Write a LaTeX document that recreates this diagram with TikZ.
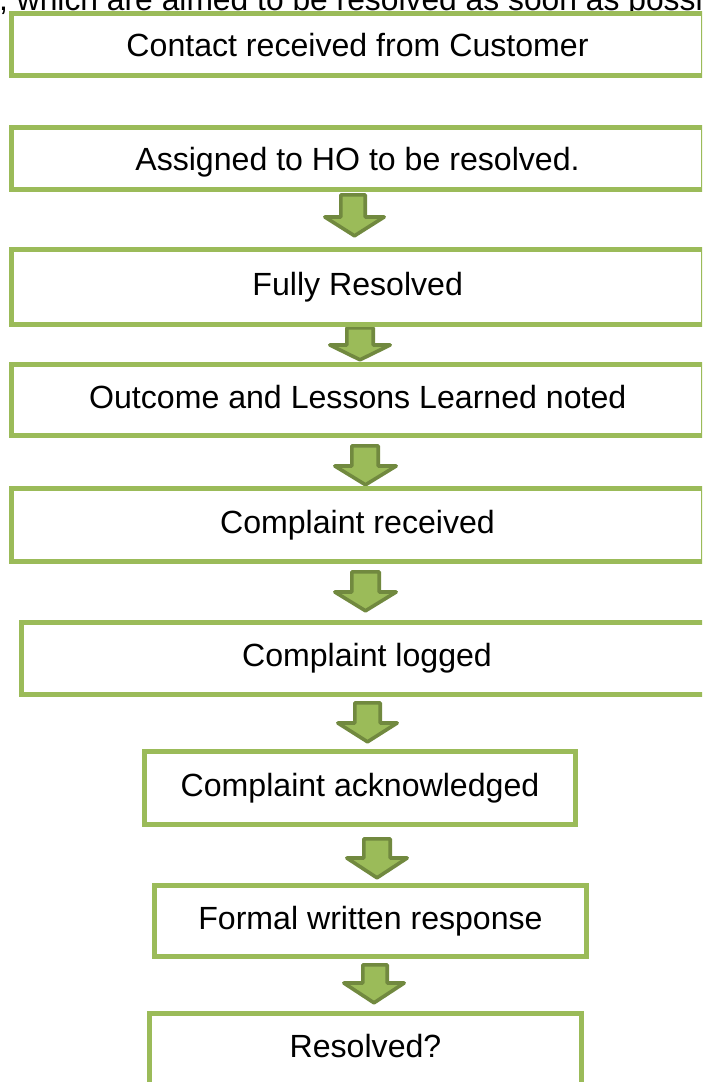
\documentclass[tikz,border=0pt]{standalone}
\usepackage{fontspec}
\setmainfont{Liberation Sans}
\definecolor{boxgreen}{HTML}{9BBB59}
\definecolor{arrowdark}{HTML}{71893F}
\tikzset{
  flowbox/.style={draw=boxgreen, line width=5pt, fill=white, rectangle, inner sep=0pt,
    text height=24pt, text depth=8pt, font=\fontsize{32.1}{38}\selectfont},
  lowtext/.style={text height=23pt, text depth=0pt},
  blockarrow/.style={fill=boxgreen, draw=arrowdark, line width=3.6pt, line join=round},
  toptext/.style={inner sep=0pt, anchor=base west, font=\fontsize{31.8}{38}\selectfont}
}
% sl, sr, hl, hr, top, headstart, tip
\newcommand{\flowarrow}[7]{%
  \draw[blockarrow] ({#1+1.8},{#5+1.8}) -- ({#2-1.8},{#5+1.8}) -- ({#2-1.8},#6) -- ({#4-1.8},#6)
    -- ({(#3+#4)/2},{#7-2.2}) -- ({#3+1.8},#6) -- ({#1+1.8},#6) -- cycle;}
\begin{document}
\begin{tikzpicture}[x=1pt,y=-1pt]
\useasboundingbox (0,0) rectangle (702,1082);
\clip (0,0) rectangle (702,1082);
\fill[white] (0,0) rectangle (702,1082);

\node[toptext] (intro) at (-1,10) {, which are aimed to be resolved as soon as possible};

\flowarrow{339}{367}{323}{386}{193}{217}{238}
\flowarrow{345}{375}{328}{392}{326}{345}{362}
\flowarrow{350}{380}{333}{398}{444}{466}{487}
\flowarrow{350}{381}{333}{398}{570}{592}{613}
\flowarrow{353}{382}{336}{399}{701}{723}{744}
\flowarrow{362}{392}{345}{409}{837}{858}{880}
\flowarrow{361}{389}{342}{406}{963}{983}{1005}

\node[flowbox, lowtext, minimum width=692pt, minimum height=62pt] (b1) at (357.5,44.5) {Contact received from Customer};
\node[flowbox, lowtext, minimum width=692pt, minimum height=62pt] (b2) at (357.5,158.5) {Assigned to HO to be resolved.};
\node[flowbox, minimum width=692pt, minimum height=75pt] (b3) at (357.75,287) {Fully Resolved};
\node[flowbox, minimum width=692pt, minimum height=71pt] (b4) at (357.75,400) {Outcome and Lessons Learned noted};
\node[flowbox, minimum width=692pt, minimum height=73pt] (b5) at (357.5,525) {Complaint received};
\node[flowbox, minimum width=691pt, minimum height=72pt] (b6) at (367,658.5) {Complaint logged};
\node[flowbox, minimum width=431pt, minimum height=73pt] (b7) at (360,788) {Complaint acknowledged};
\node[flowbox, minimum width=432pt, minimum height=71pt] (b8) at (370.5,921) {Formal written response};
\node[flowbox, minimum width=432pt, minimum height=72pt] (b9) at (365.5,1049.5) {Resolved?};
\end{tikzpicture}
\end{document}
